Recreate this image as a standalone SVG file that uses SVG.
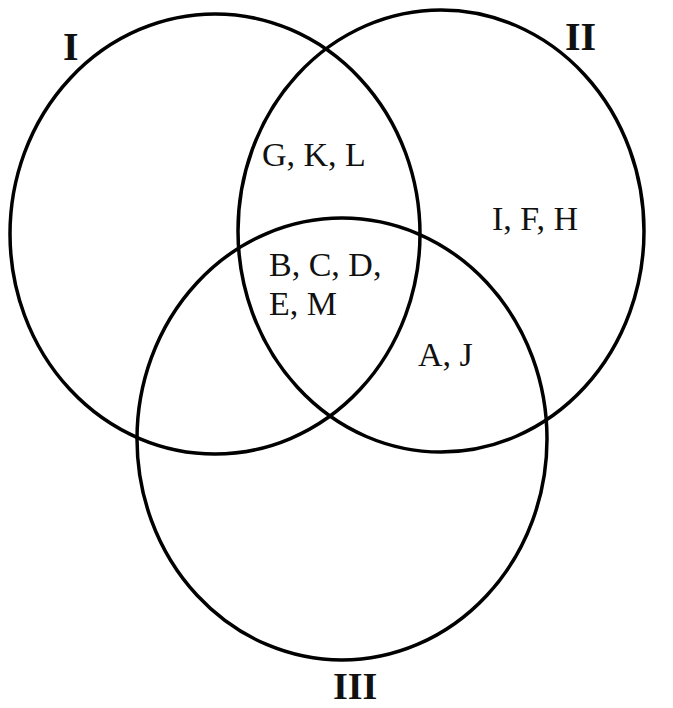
<svg xmlns="http://www.w3.org/2000/svg" width="673" height="708" viewBox="0 0 673 708">
<style>
.set{fill:none;stroke:#000;stroke-width:3.5}
.name{font-family:"Liberation Serif","Times New Roman",serif;font-weight:bold;font-size:40px;fill:#111}
.items{font-family:"Liberation Serif","Times New Roman",serif;font-size:34px;fill:#111}
</style>
<rect width="673" height="708" fill="#fff"/>
<g id="set-I">
<ellipse class="set" cx="215" cy="234" rx="205" ry="220"/>
<text class="name" x="63" y="60">I</text>
</g>
<g id="set-II">
<ellipse class="set" cx="441" cy="231" rx="203" ry="221"/>
<text class="name" x="565" y="50">II</text>
</g>
<g id="set-III">
<ellipse class="set" cx="342" cy="439" rx="205" ry="221"/>
<text class="name" x="333" y="699" style="font-size:38px">III</text>
</g>
<g id="regions">
<text class="items" x="262" y="166">G, K, L</text>
<text class="items" x="492" y="230">I, F, H</text>
<text class="items" x="269" y="276">B, C, D,</text>
<text class="items" x="269" y="315">E, M</text>
<text class="items" x="418" y="366">A, J</text>
</g>
<g id="connectors"/>
</svg>
